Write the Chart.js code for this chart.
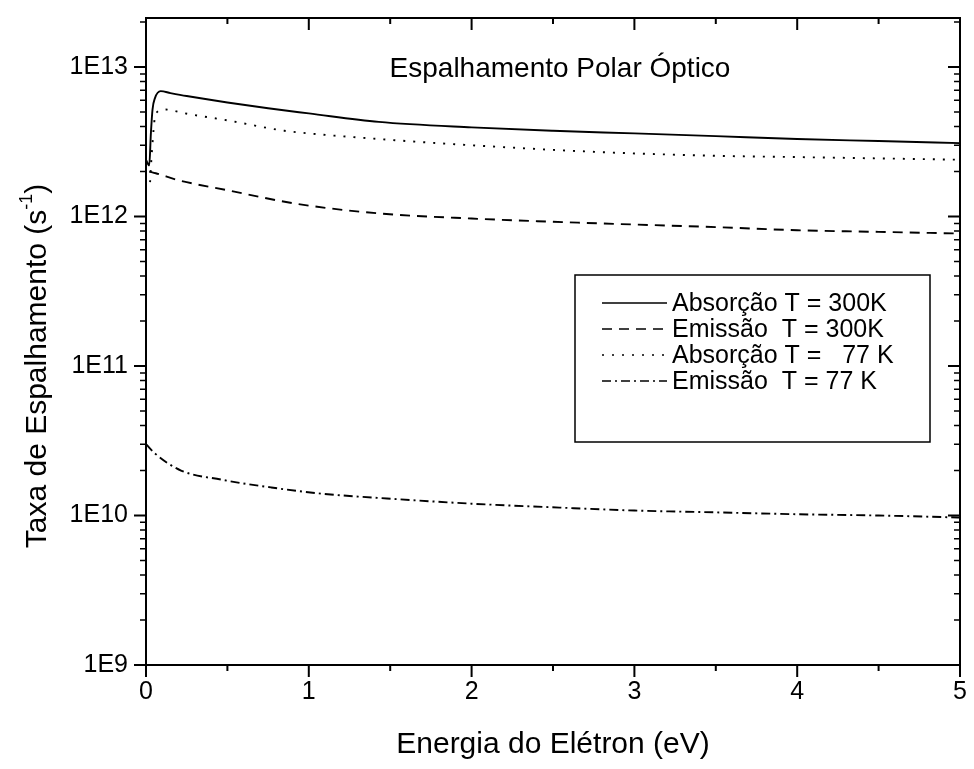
<!DOCTYPE html>
<html>
<head>
<meta charset="utf-8">
<script src="https://cdn.jsdelivr.net/npm/chart.js@4.4.1/dist/chart.umd.min.js"></script>
<style>
  html, body { margin: 0; padding: 0; background: #fff; }
  #wrap { width: 974px; height: 769px; }
</style>
</head>
<body>
<div id="wrap"><canvas id="chart" width="974" height="769"></canvas></div>
<script>
// ==================== DATA ====================
const seriesLabels = [
  "Absorção T = 300K",
  "Emissão  T = 300K",
  "Absorção T =   77 K",
  "Emissão  T = 77 K",
];

// Absorção T = 300K (solid)
const absX300 = [0, 0.02, 0.03, 0.04, 0.055, 0.09, 0.15, 0.25, 0.5, 0.75, 1.0, 1.43, 2.0, 2.5, 3.0, 3.5, 4.0, 4.5, 5.0];
const absY300 = [2.4e12, 2.2e12, 3.6e12, 5.2e12, 6.2e12, 6.9e12, 6.7e12, 6.4e12, 5.8e12, 5.3e12, 4.9e12, 4.3e12, 3.95e12, 3.75e12, 3.6e12, 3.45e12, 3.3e12, 3.2e12, 3.1e12];

// Emissão T = 300K (dashed)
const emiX300 = [0.02, 0.06, 0.2, 0.5, 0.92, 1.43, 2.0, 2.79, 3.5, 4.0, 4.5, 5.0];
const emiY300 = [2.0e12, 1.95e12, 1.75e12, 1.5e12, 1.22e12, 1.05e12, 0.97e12, 0.9e12, 0.85e12, 0.81e12, 0.79e12, 0.77e12];

// Absorção T = 77 K (dotted)
const absX77 = [0.025, 0.035, 0.06, 0.12, 0.24, 0.5, 0.85, 1.0, 1.43, 2.0, 2.79, 3.5, 4.0, 5.0];
const absY77 = [1.7e12, 2.6e12, 4.9e12, 5.2e12, 4.9e12, 4.4e12, 3.75e12, 3.6e12, 3.3e12, 3.0e12, 2.7e12, 2.55e12, 2.5e12, 2.4e12];

// Emissão T = 77 K (dash-dot)
const emiX77 = [0, 0.055, 0.215, 0.46, 0.77, 1.08, 1.48, 2.0, 2.54, 3.0, 3.5, 4.0, 4.5, 5.0];
const emiY77 = [3.0e10, 2.6e10, 2.0e10, 1.74e10, 1.54e10, 1.4e10, 1.3e10, 1.2e10, 1.13e10, 1.08e10, 1.05e10, 1.02e10, 1.0e10, 0.97e10];

const xMin = 0, xMax = 5;
const yMin = 1e9, yMax = 2.13e13;

const FONT = "'Liberation Sans', Arial, 'DejaVu Sans', sans-serif";

function toPoints(xs, ys) {
  return xs.map((x, i) => ({ x: x, y: ys[i] }));
}

// Helper: is value a power of ten
function isDecade(v) {
  const l = Math.log10(v);
  return Math.abs(l - Math.round(l)) < 1e-9;
}

// Helper: is value k * 10^n with integer k
function isLogStep(v) {
  const e = Math.floor(Math.log10(v) + 1e-9);
  const m = v / Math.pow(10, e);
  return Math.abs(m - Math.round(m)) < 1e-6;
}

// ==================== FRAME / TICKS / TEXT PLUGIN ====================
const framePlugin = {
  id: "frame",
  afterDraw(chart) {
    const ctx = chart.ctx;
    const a = chart.chartArea;
    const xs = chart.scales.x;
    const ys = chart.scales.y;
    ctx.save();
    ctx.strokeStyle = "#000";
    ctx.fillStyle = "#000";

    // box
    ctx.lineWidth = 2;
    ctx.setLineDash([]);
    ctx.strokeRect(a.left, a.top, a.right - a.left, a.bottom - a.top);

    // x ticks (out on bottom, in on top)
    ctx.lineWidth = 2;
    xs.ticks.forEach((t) => {
      const px = xs.getPixelForValue(t.value);
      const len = Number.isInteger(t.value) ? 12 : 6;
      ctx.beginPath();
      ctx.moveTo(px, a.bottom);
      ctx.lineTo(px, a.bottom + len);
      ctx.moveTo(px, a.top);
      ctx.lineTo(px, a.top + len);
      ctx.stroke();
    });

    // y ticks (out on left, in on right)
    ys.ticks.forEach((t) => {
      if (!isLogStep(t.value)) return;
      const py = ys.getPixelForValue(t.value);
      const len = isDecade(t.value) ? 12 : 6;
      ctx.lineWidth = isDecade(t.value) ? 2 : 1.5;
      ctx.beginPath();
      ctx.moveTo(a.left, py);
      ctx.lineTo(a.left - len, py);
      ctx.moveTo(a.right, py);
      ctx.lineTo(a.right - len, py);
      ctx.stroke();
    });

    // plot title
    ctx.textAlign = "center";
    ctx.textBaseline = "middle";
    ctx.font = "28px " + FONT;
    ctx.fillText("Espalhamento Polar Óptico", 560, 69);

    // x axis title
    ctx.font = "30px " + FONT;
    ctx.fillText("Energia do Elétron (eV)", (a.left + a.right) / 2, 745);

    // y axis title with superscript
    ctx.save();
    ctx.translate(38, 366);
    ctx.rotate(-Math.PI / 2);
    ctx.textAlign = "left";
    ctx.textBaseline = "middle";
    const part1 = "Taxa de Espalhamento (s";
    const sup = "-1";
    const part2 = ")";
    ctx.font = "30px " + FONT;
    const w1 = ctx.measureText(part1).width;
    const w3 = ctx.measureText(part2).width;
    ctx.font = "18px " + FONT;
    const w2 = ctx.measureText(sup).width;
    const total = w1 + w2 + w3;
    let xx = -total / 2;
    ctx.font = "30px " + FONT;
    ctx.fillText(part1, xx, 0);
    xx += w1;
    ctx.font = "18px " + FONT;
    ctx.fillText(sup, xx, -11);
    xx += w2;
    ctx.font = "30px " + FONT;
    ctx.fillText(part2, xx, 0);
    ctx.restore();

    // legend box
    const bx = 575, by = 275, bw = 355, bh = 167;
    ctx.lineWidth = 1.5;
    ctx.setLineDash([]);
    ctx.strokeRect(bx, by, bw, bh);
    const rowY = [303, 329, 355, 381];
    ctx.font = "25px " + FONT;
    ctx.textAlign = "left";
    ctx.textBaseline = "middle";
    chart.data.datasets.forEach((ds, i) => {
      ctx.lineWidth = 1.6;
      ctx.setLineDash(ds.borderDash || []);
      ctx.beginPath();
      ctx.moveTo(602, rowY[i]);
      ctx.lineTo(667, rowY[i]);
      ctx.stroke();
      ctx.setLineDash([]);
      ctx.fillText(ds.label, 672, rowY[i] + 1);
    });
    ctx.restore();
  },
};

// ==================== CHART ====================
const lineStyle = {
  borderColor: "#000",
  borderWidth: 1.9,
  pointRadius: 0,
  fill: false,
  cubicInterpolationMode: "monotone",
};

new Chart(document.getElementById("chart"), {
  type: "line",
  data: {
    datasets: [
      { ...lineStyle, label: seriesLabels[0], data: toPoints(absX300, absY300), borderDash: [] },
      { ...lineStyle, label: seriesLabels[1], data: toPoints(emiX300, emiY300), borderDash: [10, 7] },
      { ...lineStyle, label: seriesLabels[2], data: toPoints(absX77, absY77), borderDash: [2, 8] },
      { ...lineStyle, label: seriesLabels[3], data: toPoints(emiX77, emiY77), borderDash: [9, 4, 2, 4] },
    ],
  },
  options: {
    responsive: false,
    animation: false,
    devicePixelRatio: 1,
    layout: { padding: { top: 18, right: 14, left: 0, bottom: 0 } },
    plugins: {
      legend: { display: false },
      title: { display: false },
      tooltip: { enabled: false },
    },
    scales: {
      x: {
        type: "linear",
        min: xMin,
        max: xMax,
        grid: { display: false, drawTicks: false },
        border: { display: false },
        ticks: {
          stepSize: 0.5,
          autoSkip: false,
          maxRotation: 0,
          padding: 12,
          color: "#000",
          font: { family: FONT, size: 25 },
          callback: function (v) {
            return Number.isInteger(v) ? String(v) : "";
          },
        },
        afterFit: function (scale) {
          scale.height = 104;
          scale.paddingLeft = 0;
          scale.paddingRight = 0;
        },
      },
      y: {
        type: "logarithmic",
        min: yMin,
        max: yMax,
        grid: { display: false, drawTicks: false },
        border: { display: false },
        ticks: {
          autoSkip: false,
          padding: 18,
          color: "#000",
          font: { family: FONT, size: 25 },
          callback: function (v) {
            return isDecade(v) ? "1E" + Math.round(Math.log10(v)) : "";
          },
        },
        afterFit: function (scale) {
          scale.width = 146;
          scale.paddingTop = 0;
          scale.paddingBottom = 0;
        },
      },
    },
  },
  plugins: [framePlugin],
});
</script>
</body>
</html>
